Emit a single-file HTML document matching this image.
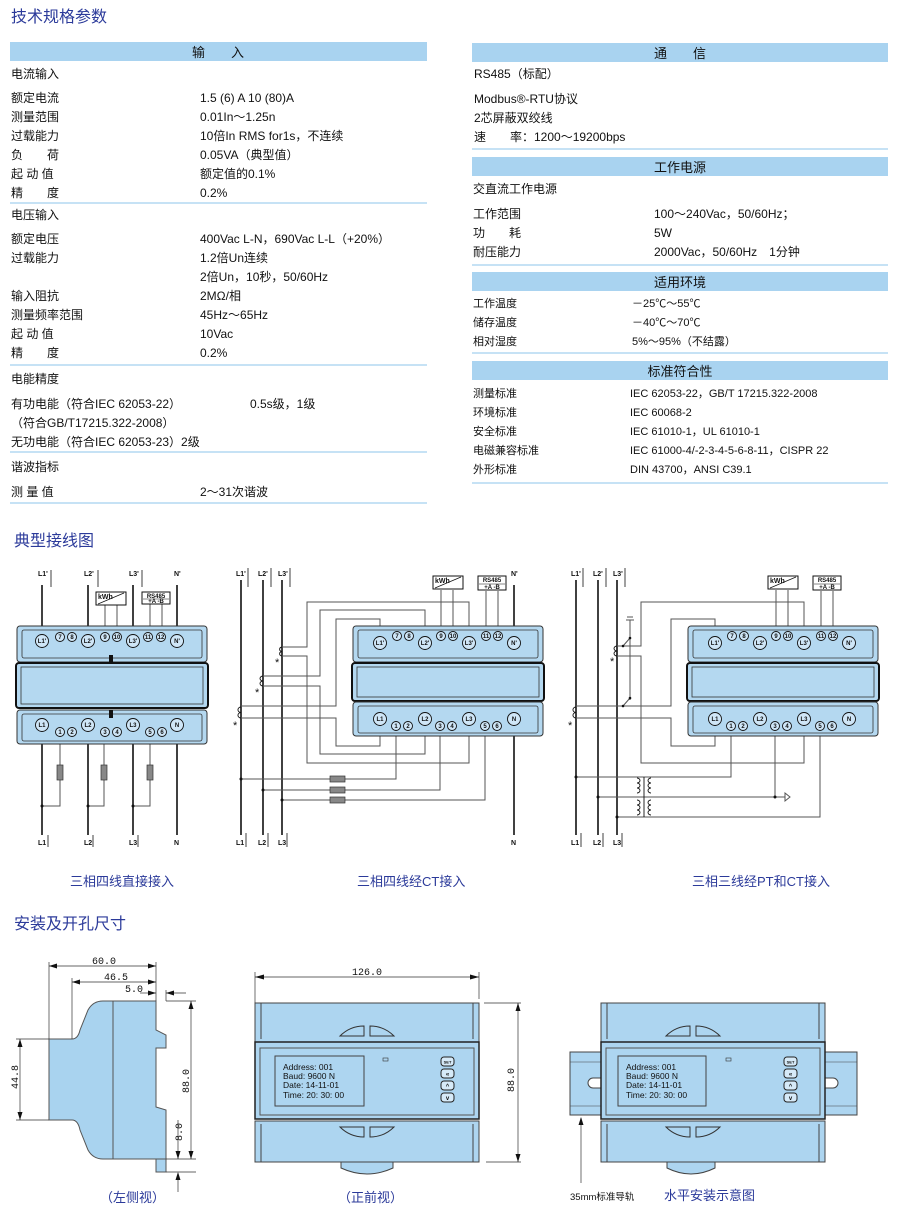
<!DOCTYPE html>
<html><head><meta charset="utf-8"><style>
html,body{margin:0;padding:0;background:#fff;}
svg{display:block;}
.t{font-family:"Liberation Sans","Noto Sans CJK SC",sans-serif;font-size:12px;fill:#111;}
.s{font-family:"Liberation Sans","Noto Sans CJK SC",sans-serif;font-size:11px;fill:#111;}
.h{font-family:"Liberation Sans","Noto Sans CJK SC",sans-serif;font-size:13px;fill:#111;}
.ti{font-family:"Liberation Sans","Noto Sans CJK SC",sans-serif;font-size:16px;fill:#2b3a9a;}
.cap{font-family:"Liberation Sans","Noto Sans CJK SC",sans-serif;font-size:13px;fill:#2b3a9a;}
.w{font-family:"Liberation Sans",sans-serif;font-size:7px;font-weight:bold;fill:#111;}
.n{font-family:"Liberation Sans",sans-serif;font-size:6px;font-weight:bold;fill:#111;text-anchor:middle;}
.lcd{font-family:"Liberation Sans",sans-serif;font-size:8.5px;fill:#111;}
.dim{font-family:"Liberation Mono",monospace;font-size:10px;fill:#111;}
</style></head><body>
<svg width="900" height="1216" viewBox="0 0 900 1216" xmlns="http://www.w3.org/2000/svg">
<text class="ti" x="11" y="22">技术规格参数</text>
<text class="ti" x="14" y="546">典型接线图</text>
<text class="ti" x="14" y="929">安装及开孔尺寸</text>

<rect x="10" y="42" width="417" height="19" fill="#a9d3f0"/>
<text class="h" x="218" y="57" text-anchor="middle">输　　入</text>
<g class="t">
<text x="11" y="78">电流输入</text>
<text x="11" y="102">额定电流</text><text x="200" y="102">1.5 (6) A  10 (80)A</text>
<text x="11" y="121">测量范围</text><text x="200" y="121">0.01In～1.25n</text>
<text x="11" y="140">过载能力</text><text x="200" y="140">10倍In RMS for1s，不连续</text>
<text x="11" y="159">负　　荷</text><text x="200" y="159">0.05VA（典型值）</text>
<text x="11" y="178">起 动 值</text><text x="200" y="178">额定值的0.1%</text>
<text x="11" y="197">精　　度</text><text x="200" y="197">0.2%</text>
<text x="11" y="219">电压输入</text>
<text x="11" y="243">额定电压</text><text x="200" y="243">400Vac L-N，690Vac L-L（+20%）</text>
<text x="11" y="262">过载能力</text><text x="200" y="262">1.2倍Un连续</text>
<text x="200" y="281">2倍Un，10秒，50/60Hz</text>
<text x="11" y="300">输入阻抗</text><text x="200" y="300">2MΩ/相</text>
<text x="11" y="319">测量频率范围</text><text x="200" y="319">45Hz～65Hz</text>
<text x="11" y="338">起 动 值</text><text x="200" y="338">10Vac</text>
<text x="11" y="357">精　　度</text><text x="200" y="357">0.2%</text>
<text x="11" y="383">电能精度</text>
<text x="11" y="408">有功电能（符合IEC 62053-22）</text><text x="250" y="408">0.5s级，1级</text>
<text x="11" y="427">（符合GB/T17215.322-2008）</text>
<text x="11" y="446">无功电能（符合IEC 62053-23）2级</text>
<text x="11" y="471">谐波指标</text>
<text x="11" y="496">测 量 值</text><text x="200" y="496">2～31次谐波</text>
</g>
<g fill="#c6e2f5">
<rect x="10" y="202" width="417" height="2"/>
<rect x="10" y="364" width="417" height="2"/>
<rect x="10" y="451" width="417" height="2"/>
<rect x="10" y="502" width="417" height="2"/>
</g>

<g fill="#a9d3f0">
<rect x="472" y="43" width="416" height="19"/>
<rect x="472" y="157" width="416" height="19"/>
<rect x="472" y="272" width="416" height="19"/>
<rect x="472" y="361" width="416" height="19"/>
</g>
<g fill="#c6e2f5">
<rect x="472" y="148" width="416" height="2"/>
<rect x="472" y="264" width="416" height="2"/>
<rect x="472" y="352" width="416" height="2"/>
<rect x="472" y="482" width="416" height="2"/>
</g>
<g class="h" text-anchor="middle">
<text x="680" y="58">通　　信</text>
<text x="680" y="172">工作电源</text>
<text x="680" y="287">适用环境</text>
<text x="680" y="376">标准符合性</text>
</g>
<g class="t">
<text x="474" y="78">RS485（标配）</text>
<text x="474" y="103">Modbus®-RTU协议</text>
<text x="474" y="122">2芯屏蔽双绞线</text>
<text x="474" y="141">速　　率：1200～19200bps</text>
<text x="473" y="193">交直流工作电源</text>
<text x="473" y="218">工作范围</text><text x="654" y="218">100～240Vac，50/60Hz；</text>
<text x="473" y="237">功　　耗</text><text x="654" y="237">5W</text>
<text x="473" y="256">耐压能力</text><text x="654" y="256">2000Vac，50/60Hz　1分钟</text>
</g>
<g class="s">
<text x="473" y="307">工作温度</text><text x="632" y="307">－25℃～55℃</text>
<text x="473" y="326">储存温度</text><text x="632" y="326">－40℃～70℃</text>
<text x="473" y="345">相对湿度</text><text x="632" y="345">5%～95%（不结露）</text>
<text x="473" y="397">测量标准</text><text x="630" y="397">IEC 62053-22，GB/T 17215.322-2008</text>
<text x="473" y="416">环境标准</text><text x="630" y="416">IEC 60068-2</text>
<text x="473" y="435">安全标准</text><text x="630" y="435">IEC 61010-1，UL 61010-1</text>
<text x="473" y="454">电磁兼容标准</text><text x="630" y="454">IEC 61000-4/-2-3-4-5-6-8-11，CISPR 22</text>
<text x="473" y="473">外形标准</text><text x="630" y="473">DIN 43700，ANSI C39.1</text>
</g>

<!-- WIRING 1 -->
<g stroke="#111" stroke-width="1.6" fill="none">
<line x1="42" y1="585" x2="42" y2="626"/><line x1="88" y1="585" x2="88" y2="626"/>
<line x1="133" y1="585" x2="133" y2="626"/><line x1="177" y1="585" x2="177" y2="626"/>
<line x1="42" y1="744" x2="42" y2="835"/><line x1="88" y1="744" x2="88" y2="835"/>
<line x1="133" y1="744" x2="133" y2="835"/><line x1="177" y1="744" x2="177" y2="835"/>
</g>
<g stroke="#555" stroke-width="1" fill="none">
<line x1="105" y1="604" x2="105" y2="626"/><line x1="117" y1="604" x2="117" y2="626"/>
<line x1="150" y1="604" x2="150" y2="626"/><line x1="162" y1="604" x2="162" y2="626"/>
<polyline points="60,732 60,806 42,806"/><polyline points="104,732 104,806 88,806"/><polyline points="150,732 150,806 133,806"/>
</g>
<g fill="#888" stroke="#333" stroke-width=".7"><rect x="57" y="765" width="6" height="15"/><rect x="101" y="765" width="6" height="15"/><rect x="147" y="765" width="6" height="15"/></g>
<g fill="#111"><circle cx="42" cy="806" r="1.5"/><circle cx="88" cy="806" r="1.5"/><circle cx="133" cy="806" r="1.5"/></g>
<rect x="96" y="592" width="30" height="13" fill="#fff" stroke="#111"/><text class="w" x="98" y="599">kWh</text><line x1="98" y1="604" x2="124" y2="593" stroke="#111" stroke-width=".7"/>
<rect x="142" y="592" width="28" height="12" fill="#fff" stroke="#111"/><text class="n" x="156" y="598">RS485</text><line x1="143" y1="599" x2="169" y2="599" stroke="#111" stroke-width=".5"/><text class="n" x="156" y="603">+A  -B</text>
<g class="w"><text x="38" y="576">L1'</text><text x="84" y="576">L2'</text><text x="129" y="576">L3'</text><text x="174" y="576">N'</text>
<text x="38" y="845">L1</text><text x="84" y="845">L2</text><text x="129" y="845">L3</text><text x="174" y="845">N</text></g>
<g stroke="#111" stroke-width=".8"><line x1="51" y1="570" x2="51" y2="587"/><line x1="98" y1="570" x2="98" y2="587"/><line x1="142" y1="570" x2="142" y2="587"/>
<line x1="48" y1="835" x2="48" y2="847"/><line x1="93" y1="835" x2="93" y2="847"/><line x1="138" y1="835" x2="138" y2="847"/></g>

<g transform="translate(17,626)">
<rect x="0" y="0" width="190" height="36" rx="3" fill="#b4d8f0" stroke="#333"/>
<rect x="5" y="4" width="180" height="28" rx="2" fill="none" stroke="#333" stroke-width=".8"/>
<rect x="-1" y="37" width="192" height="45" rx="3" fill="#b4d8f0" stroke="#111" stroke-width="2"/>
<rect x="4" y="41" width="182" height="37" fill="none" stroke="#333" stroke-width=".8"/>
<rect x="0" y="84" width="190" height="34" rx="3" fill="#b4d8f0" stroke="#333"/>
<rect x="5" y="88" width="180" height="27" rx="2" fill="none" stroke="#333" stroke-width=".8"/>
<rect x="92" y="29" width="4" height="8" fill="#111"/><rect x="92" y="84" width="4" height="8" fill="#111"/>
<g fill="#cfe6f7" stroke="#111" stroke-width=".9">
<circle cx="25" cy="15" r="6.5"/><circle cx="71" cy="15" r="6.5"/><circle cx="116" cy="15" r="6.5"/><circle cx="160" cy="15" r="6.5"/>
<circle cx="43" cy="11" r="4.5"/><circle cx="55" cy="11" r="4.5"/><circle cx="88" cy="11" r="4.5"/><circle cx="100" cy="11" r="4.5"/><circle cx="131" cy="11" r="4.5"/><circle cx="144" cy="11" r="4.5"/>
<circle cx="25" cy="99" r="6.5"/><circle cx="71" cy="99" r="6.5"/><circle cx="116" cy="99" r="6.5"/><circle cx="160" cy="99" r="6.5"/>
<circle cx="43" cy="106" r="4.5"/><circle cx="55" cy="106" r="4.5"/><circle cx="88" cy="106" r="4.5"/><circle cx="100" cy="106" r="4.5"/><circle cx="133" cy="106" r="4.5"/><circle cx="145" cy="106" r="4.5"/>
</g>
<g class="n"><text x="25" y="17">L1'</text><text x="71" y="17">L2'</text><text x="116" y="17">L3'</text><text x="160" y="17">N'</text>
<text x="43" y="13">7</text><text x="55" y="13">8</text><text x="88" y="13">9</text><text x="100" y="13">10</text><text x="131" y="13">11</text><text x="144" y="13">12</text>
<text x="25" y="101">L1</text><text x="71" y="101">L2</text><text x="116" y="101">L3</text><text x="160" y="101">N</text>
<text x="43" y="108">1</text><text x="55" y="108">2</text><text x="88" y="108">3</text><text x="100" y="108">4</text><text x="133" y="108">5</text><text x="145" y="108">6</text></g>
</g>
<text class="cap" x="70" y="886">三相四线直接接入</text>

<!-- WIRING 2 -->
<g stroke="#111" stroke-width="1.6"><line x1="241" y1="580" x2="241" y2="835"/><line x1="263" y1="580" x2="263" y2="835"/><line x1="282" y1="580" x2="282" y2="835"/>
<line x1="514" y1="585" x2="514" y2="626"/><line x1="514" y1="736" x2="514" y2="835"/></g>
<g stroke="#555" stroke-width="1" fill="none">
<polyline points="282,647 307,647 307,602 469,602 469,626"/>
<polyline points="282,656 307,656 307,763 469,763 469,736"/>
<polyline points="263,676 320,676 320,610 425,610 425,626"/>
<polyline points="263,686 320,686 320,754 425,754 425,736"/>
<polyline points="241,706 336,706 336,619 380,619 380,626"/>
<polyline points="241,718 336,718 336,746 380,746 380,736"/>
<polyline points="241,779 396,779 396,736"/><polyline points="263,790 440,790 440,736"/><polyline points="282,800 485,800 485,736"/>
<line x1="441" y1="590" x2="441" y2="626"/><line x1="453" y1="590" x2="453" y2="626"/><line x1="486" y1="591" x2="486" y2="626"/><line x1="498" y1="591" x2="498" y2="626"/>
</g>
<g fill="#888" stroke="#333" stroke-width=".7"><rect x="330" y="776" width="15" height="6"/><rect x="330" y="787" width="15" height="6"/><rect x="330" y="797" width="15" height="6"/></g>
<g fill="none" stroke="#111" stroke-width=".9"><path d="M282,647 a3,2.3 0 0 0 0,4.5 a3,2.3 0 0 0 0,4.5"/><path d="M263,676 a3,2.5 0 0 0 0,5 a3,2.5 0 0 0 0,5"/><path d="M241,707 a3,2.7 0 0 0 0,5.5 a3,2.7 0 0 0 0,5.5"/></g>
<g class="s" fill="#555"><text x="275" y="666">*</text><text x="255" y="696">*</text><text x="233" y="729">*</text></g>
<g fill="#111"><circle cx="241" cy="779" r="1.5"/><circle cx="263" cy="790" r="1.5"/><circle cx="282" cy="800" r="1.5"/></g>
<rect x="433" y="576" width="30" height="13" fill="#fff" stroke="#111"/><text class="w" x="435" y="583">kWh</text><line x1="435" y1="588" x2="461" y2="577" stroke="#111" stroke-width=".7"/>
<rect x="478" y="576" width="28" height="14" fill="#fff" stroke="#111"/><text class="n" x="492" y="582">RS485</text><line x1="479" y1="584" x2="505" y2="584" stroke="#111" stroke-width=".5"/><text class="n" x="492" y="589">+A  -B</text>
<g class="w"><text x="236" y="576">L1'</text><text x="258" y="576">L2'</text><text x="278" y="576">L3'</text><text x="511" y="576">N'</text>
<text x="236" y="845">L1</text><text x="258" y="845">L2</text><text x="278" y="845">L3</text><text x="511" y="845">N</text></g>
<g stroke="#111" stroke-width=".8"><line x1="248" y1="568" x2="248" y2="587"/><line x1="271" y1="568" x2="271" y2="587"/><line x1="290" y1="568" x2="290" y2="587"/>
<line x1="246" y1="833" x2="246" y2="847"/><line x1="268" y1="833" x2="268" y2="847"/><line x1="287" y1="833" x2="287" y2="847"/></g>

<g transform="translate(353,626)">
<rect x="0" y="0" width="190" height="36" rx="3" fill="#b4d8f0" stroke="#333"/>
<rect x="5" y="4" width="180" height="28" rx="2" fill="none" stroke="#333" stroke-width=".8"/>
<rect x="-1" y="37" width="192" height="38" rx="3" fill="#b4d8f0" stroke="#111" stroke-width="2"/>
<rect x="4" y="41" width="182" height="30" fill="none" stroke="#333" stroke-width=".8"/>
<rect x="0" y="76" width="190" height="34" rx="3" fill="#b4d8f0" stroke="#333"/>
<rect x="5" y="80" width="180" height="27" rx="2" fill="none" stroke="#333" stroke-width=".8"/>
<g fill="#cfe6f7" stroke="#111" stroke-width=".9">
<circle cx="27" cy="17" r="6.5"/><circle cx="72" cy="17" r="6.5"/><circle cx="116" cy="17" r="6.5"/><circle cx="161" cy="17" r="6.5"/>
<circle cx="44" cy="10" r="4.5"/><circle cx="56" cy="10" r="4.5"/><circle cx="88" cy="10" r="4.5"/><circle cx="100" cy="10" r="4.5"/><circle cx="133" cy="10" r="4.5"/><circle cx="145" cy="10" r="4.5"/>
<circle cx="27" cy="93" r="6.5"/><circle cx="72" cy="93" r="6.5"/><circle cx="116" cy="93" r="6.5"/><circle cx="161" cy="93" r="6.5"/>
<circle cx="43" cy="100" r="4.5"/><circle cx="55" cy="100" r="4.5"/><circle cx="87" cy="100" r="4.5"/><circle cx="99" cy="100" r="4.5"/><circle cx="132" cy="100" r="4.5"/><circle cx="144" cy="100" r="4.5"/>
</g>
<g class="n"><text x="27" y="19">L1'</text><text x="72" y="19">L2'</text><text x="116" y="19">L3'</text><text x="161" y="19">N'</text>
<text x="44" y="12">7</text><text x="56" y="12">8</text><text x="88" y="12">9</text><text x="100" y="12">10</text><text x="133" y="12">11</text><text x="145" y="12">12</text>
<text x="27" y="95">L1</text><text x="72" y="95">L2</text><text x="116" y="95">L3</text><text x="161" y="95">N</text>
<text x="43" y="102">1</text><text x="55" y="102">2</text><text x="87" y="102">3</text><text x="99" y="102">4</text><text x="132" y="102">5</text><text x="144" y="102">6</text></g>
</g>
<text class="cap" x="357" y="886">三相四线经CT接入</text>

<!-- WIRING 3 -->
<g stroke="#111" stroke-width="1.6"><line x1="576" y1="580" x2="576" y2="835"/><line x1="598" y1="580" x2="598" y2="835"/><line x1="617" y1="580" x2="617" y2="835"/></g>
<g stroke="#555" stroke-width="1" fill="none">
<polyline points="617,646 641,646 641,602 804,602 804,626"/>
<polyline points="617,656 641,656 641,763 804,763 804,736"/>
<polyline points="576,706 671,706 671,619 715,619 715,626"/>
<polyline points="576,718 671,718 671,746 715,746 715,736"/>
<line x1="630" y1="620" x2="630" y2="700"/>
<polyline points="576,777 731,777 731,736"/>
<polyline points="598,797 785,797"/><line x1="775" y1="736" x2="775" y2="797"/>
<polyline points="617,817 820,817 820,736"/>
<line x1="776" y1="590" x2="776" y2="626"/><line x1="788" y1="590" x2="788" y2="626"/><line x1="821" y1="591" x2="821" y2="626"/><line x1="833" y1="591" x2="833" y2="626"/>
<line x1="623" y1="646" x2="630" y2="638"/><line x1="623" y1="706" x2="630" y2="698"/>
<line x1="626" y1="620" x2="634" y2="620"/><line x1="627" y1="617" x2="633" y2="617"/>
<path d="M785,793 l5,4 l-5,4 z"/>
</g>
<g fill="none" stroke="#111" stroke-width=".9"><path d="M617,646 a3,2.5 0 0 0 0,5 a3,2.5 0 0 0 0,5"/><path d="M576,707 a3,2.7 0 0 0 0,5.5 a3,2.7 0 0 0 0,5.5"/>
<path d="M637,778 a3,2.5 0 0 1 0,5 a3,2.5 0 0 1 0,5 a3,2.5 0 0 1 0,5"/><path d="M651,778 a3,2.5 0 0 0 0,5 a3,2.5 0 0 0 0,5 a3,2.5 0 0 0 0,5"/>
<path d="M637,800 a3,2.5 0 0 1 0,5 a3,2.5 0 0 1 0,5 a3,2.5 0 0 1 0,5"/><path d="M651,800 a3,2.5 0 0 0 0,5 a3,2.5 0 0 0 0,5 a3,2.5 0 0 0 0,5"/>
<line x1="644" y1="777" x2="644" y2="817"/></g>
<g class="s" fill="#555"><text x="610" y="665">*</text><text x="568" y="729">*</text></g>
<g fill="#111"><circle cx="576" cy="777" r="1.5"/><circle cx="598" cy="797" r="1.5"/><circle cx="617" cy="817" r="1.5"/><circle cx="775" cy="797" r="1.5"/><circle cx="623" cy="646" r="1.3"/><circle cx="630" cy="638" r="1.3"/><circle cx="623" cy="706" r="1.3"/><circle cx="630" cy="698" r="1.3"/></g>
<rect x="768" y="576" width="30" height="13" fill="#fff" stroke="#111"/><text class="w" x="770" y="583">kWh</text><line x1="770" y1="588" x2="796" y2="577" stroke="#111" stroke-width=".7"/>
<rect x="813" y="576" width="28" height="14" fill="#fff" stroke="#111"/><text class="n" x="827" y="582">RS485</text><line x1="814" y1="584" x2="840" y2="584" stroke="#111" stroke-width=".5"/><text class="n" x="827" y="589">+A  -B</text>
<g class="w"><text x="571" y="576">L1'</text><text x="593" y="576">L2'</text><text x="613" y="576">L3'</text>
<text x="571" y="845">L1</text><text x="593" y="845">L2</text><text x="613" y="845">L3</text></g>
<g stroke="#111" stroke-width=".8"><line x1="583" y1="568" x2="583" y2="587"/><line x1="606" y1="568" x2="606" y2="587"/><line x1="625" y1="568" x2="625" y2="587"/>
<line x1="581" y1="833" x2="581" y2="847"/><line x1="603" y1="833" x2="603" y2="847"/><line x1="622" y1="833" x2="622" y2="847"/></g>

<g transform="translate(688,626)">
<rect x="0" y="0" width="190" height="36" rx="3" fill="#b4d8f0" stroke="#333"/>
<rect x="5" y="4" width="180" height="28" rx="2" fill="none" stroke="#333" stroke-width=".8"/>
<rect x="-1" y="37" width="192" height="38" rx="3" fill="#b4d8f0" stroke="#111" stroke-width="2"/>
<rect x="4" y="41" width="182" height="30" fill="none" stroke="#333" stroke-width=".8"/>
<rect x="0" y="76" width="190" height="34" rx="3" fill="#b4d8f0" stroke="#333"/>
<rect x="5" y="80" width="180" height="27" rx="2" fill="none" stroke="#333" stroke-width=".8"/>
<g fill="#cfe6f7" stroke="#111" stroke-width=".9">
<circle cx="27" cy="17" r="6.5"/><circle cx="72" cy="17" r="6.5"/><circle cx="116" cy="17" r="6.5"/><circle cx="161" cy="17" r="6.5"/>
<circle cx="44" cy="10" r="4.5"/><circle cx="56" cy="10" r="4.5"/><circle cx="88" cy="10" r="4.5"/><circle cx="100" cy="10" r="4.5"/><circle cx="133" cy="10" r="4.5"/><circle cx="145" cy="10" r="4.5"/>
<circle cx="27" cy="93" r="6.5"/><circle cx="72" cy="93" r="6.5"/><circle cx="116" cy="93" r="6.5"/><circle cx="161" cy="93" r="6.5"/>
<circle cx="43" cy="100" r="4.5"/><circle cx="55" cy="100" r="4.5"/><circle cx="87" cy="100" r="4.5"/><circle cx="99" cy="100" r="4.5"/><circle cx="132" cy="100" r="4.5"/><circle cx="144" cy="100" r="4.5"/>
</g>
<g class="n"><text x="27" y="19">L1'</text><text x="72" y="19">L2'</text><text x="116" y="19">L3'</text><text x="161" y="19">N'</text>
<text x="44" y="12">7</text><text x="56" y="12">8</text><text x="88" y="12">9</text><text x="100" y="12">10</text><text x="133" y="12">11</text><text x="145" y="12">12</text>
<text x="27" y="95">L1</text><text x="72" y="95">L2</text><text x="116" y="95">L3</text><text x="161" y="95">N</text>
<text x="43" y="102">1</text><text x="55" y="102">2</text><text x="87" y="102">3</text><text x="99" y="102">4</text><text x="132" y="102">5</text><text x="144" y="102">6</text></g>
</g>
<text class="cap" x="692" y="886">三相三线经PT和CT接入</text>

<!-- side view -->
<path d="M49,1039 L72,1039 Q78,1039 80,1030 L88,1010 Q93,1001 103,1001 L156,1001 L156,1030 L166,1035 L166,1048 L156,1048 L156,1107 L166,1110 L166,1159 L103,1159 Q93,1159 88,1150 L80,1130 Q78,1120 72,1120 L49,1120 Z" fill="#a9d3ef" stroke="#555"/>
<line x1="113" y1="1001" x2="113" y2="1159" stroke="#555"/>
<rect x="156" y="1159" width="10" height="13" fill="#a9d3ef" stroke="#555"/>
<g stroke="#333" stroke-width=".7" fill="none">
<line x1="49" y1="962" x2="49" y2="1039"/><line x1="72" y1="978" x2="72" y2="1039"/><line x1="156" y1="962" x2="156" y2="1001"/><line x1="166" y1="990" x2="166" y2="1001"/>
<line x1="49" y1="966" x2="156" y2="966"/><line x1="72" y1="982" x2="156" y2="982"/><line x1="140" y1="993" x2="156" y2="993"/><line x1="166" y1="993" x2="186" y2="993"/>
<line x1="16" y1="1039" x2="49" y2="1039"/><line x1="16" y1="1120" x2="49" y2="1120"/><line x1="20" y1="1039" x2="20" y2="1120"/>
<line x1="166" y1="1001" x2="196" y2="1001"/><line x1="166" y1="1159" x2="196" y2="1159"/><line x1="191" y1="1001" x2="191" y2="1159"/>
<line x1="166" y1="1172" x2="196" y2="1172"/><line x1="178" y1="1120" x2="178" y2="1159"/><line x1="178" y1="1176" x2="178" y2="1192"/>
</g>
<g fill="#111">
<path d="M49,966 l8,-2.5 v5z"/><path d="M156,966 l-8,-2.5 v5z"/><path d="M72,982 l8,-2.5 v5z"/><path d="M156,982 l-8,-2.5 v5z"/><path d="M156,993 l-8,-2.5 v5z"/><path d="M166,993 l8,-2.5 v5z"/>
<path d="M20,1039 l-2.5,8 h5z"/><path d="M20,1120 l-2.5,-8 h5z"/><path d="M191,1001 l-2.5,8 h5z"/><path d="M191,1159 l-2.5,-8 h5z"/><path d="M178,1159 l-2.5,-8 h5z"/><path d="M178,1172 l-2.5,8 h5z"/>
</g>
<g class="dim"><text x="92" y="964">60.0</text><text x="104" y="980">46.5</text><text x="125" y="992">5.0</text>
<text transform="translate(18,1089) rotate(-90)">44.8</text><text transform="translate(189,1093) rotate(-90)">88.0</text><text transform="translate(182,1141) rotate(-90)">8.0</text></g>
<text class="cap" x="100" y="1202">（左侧视）</text>

<!-- front view (x 255-479) -->
<g>
<rect x="255" y="1003" width="224" height="39" fill="#add5f0" stroke="#444"/>
<line x1="261" y1="1003" x2="261" y2="1039" stroke="#444"/><line x1="473" y1="1003" x2="473" y2="1039" stroke="#444"/>
<rect x="255" y="1042" width="224" height="77" fill="#add5f0" stroke="#222" stroke-width="1.5"/>
<rect x="260" y="1048" width="214" height="67" fill="none" stroke="#555"/>
<rect x="255" y="1121" width="224" height="41" fill="#add5f0" stroke="#444"/>
<line x1="261" y1="1124" x2="261" y2="1162" stroke="#444"/><line x1="473" y1="1124" x2="473" y2="1162" stroke="#444"/>
<path d="M340,1036 Q350,1026 364,1026 L364,1036 Z M370,1036 L370,1026 Q384,1026 394,1036 Z" fill="none" stroke="#333"/>
<path d="M340,1127 Q350,1137 364,1137 L364,1127 Z M370,1127 L370,1137 Q384,1137 394,1127 Z" fill="none" stroke="#333"/>
<path d="M341,1162 L341,1168 Q367,1180 393,1168 L393,1162 Z" fill="#add5f0" stroke="#444"/>
<rect x="275" y="1056" width="89" height="50" fill="none" stroke="#444"/>
<g class="lcd"><text x="283" y="1070">Address: 001</text><text x="283" y="1079">Baud: 9600 N</text><text x="283" y="1088">Date: 14-11-01</text><text x="283" y="1098">Time: 20: 30: 00</text></g>
<rect x="383" y="1058" width="5" height="3" fill="none" stroke="#333" stroke-width=".6"/>
<g fill="#d6eaf8" stroke="#222"><rect x="441" y="1057" width="13" height="9" rx="3"/><rect x="441" y="1069" width="13" height="9" rx="3"/><rect x="441" y="1081" width="13" height="9" rx="3"/><rect x="441" y="1093" width="13" height="9" rx="3"/></g>
<g class="n"><text x="447.5" y="1063.5" font-size="4">SET</text><text x="447.5" y="1076">«</text><text x="447.5" y="1088">^</text><text x="447.5" y="1100">v</text></g>
</g>
<g stroke="#333" stroke-width=".7"><line x1="255" y1="972" x2="255" y2="1003"/><line x1="479" y1="972" x2="479" y2="999"/><line x1="255" y1="977" x2="479" y2="977"/>
<line x1="484" y1="1003" x2="521" y2="1003"/><line x1="486" y1="1162" x2="521" y2="1162"/><line x1="518" y1="1003" x2="518" y2="1162"/></g>
<g fill="#111"><path d="M255,977 l9,-2.5 v5z"/><path d="M479,977 l-9,-2.5 v5z"/><path d="M518,1003 l-2.5,8 h5z"/><path d="M518,1162 l-2.5,-8 h5z"/></g>
<g class="dim"><text x="352" y="975">126.0</text><text transform="translate(514,1092) rotate(-90)">88.0</text></g>
<text class="cap" x="338" y="1202">（正前视）</text>

<!-- horizontal install -->
<rect x="570" y="1052" width="287" height="63" fill="#add5f0" stroke="#444"/>
<line x1="570" y1="1062" x2="857" y2="1062" stroke="#444" stroke-width=".6"/><line x1="570" y1="1106" x2="857" y2="1106" stroke="#444" stroke-width=".6"/>
<path d="M601,1078 h-8 a5,5 0 0 0 0,10 h8" fill="#fff" stroke="#444"/><path d="M825,1078 h8 a5,5 0 0 1 0,10 h-8" fill="#fff" stroke="#444"/>
<g transform="translate(346,0)">
<rect x="255" y="1003" width="224" height="39" fill="#add5f0" stroke="#444"/>
<line x1="261" y1="1003" x2="261" y2="1039" stroke="#444"/><line x1="473" y1="1003" x2="473" y2="1039" stroke="#444"/>
<rect x="255" y="1042" width="224" height="77" fill="#add5f0" stroke="#222" stroke-width="1.5"/>
<rect x="260" y="1048" width="214" height="67" fill="none" stroke="#555"/>
<rect x="255" y="1121" width="224" height="41" fill="#add5f0" stroke="#444"/>
<line x1="261" y1="1124" x2="261" y2="1162" stroke="#444"/><line x1="473" y1="1124" x2="473" y2="1162" stroke="#444"/>
<path d="M320,1036 Q330,1026 344,1026 L344,1036 Z M350,1036 L350,1026 Q364,1026 374,1036 Z" fill="none" stroke="#333"/>
<path d="M320,1127 Q330,1137 344,1137 L344,1127 Z M350,1127 L350,1137 Q364,1137 374,1127 Z" fill="none" stroke="#333"/>
<path d="M321,1162 L321,1168 Q345,1180 369,1168 L369,1162 Z" fill="#add5f0" stroke="#444"/>
<rect x="272" y="1056" width="88" height="50" fill="none" stroke="#444"/>
<g class="lcd"><text x="280" y="1070">Address: 001</text><text x="280" y="1079">Baud: 9600 N</text><text x="280" y="1088">Date: 14-11-01</text><text x="280" y="1098">Time: 20: 30: 00</text></g>
<rect x="380" y="1058" width="5" height="3" fill="none" stroke="#333" stroke-width=".6"/>
<g fill="#d6eaf8" stroke="#222"><rect x="438" y="1057" width="13" height="9" rx="3"/><rect x="438" y="1069" width="13" height="9" rx="3"/><rect x="438" y="1081" width="13" height="9" rx="3"/><rect x="438" y="1093" width="13" height="9" rx="3"/></g>
<g class="n"><text x="444.5" y="1063.5" font-size="4">SET</text><text x="444.5" y="1076">«</text><text x="444.5" y="1088">^</text><text x="444.5" y="1100">v</text></g>
</g>
<line x1="581" y1="1118" x2="581" y2="1183" stroke="#333" stroke-width=".7"/><path d="M581,1117 l-2.5,8 h5z" fill="#111"/>
<text x="570" y="1200" font-family="Liberation Sans,Noto Sans CJK SC,sans-serif" font-size="9.5" fill="#111">35mm标准导轨</text>
<text class="cap" x="664" y="1200">水平安装示意图</text>
</svg>
</body></html>
